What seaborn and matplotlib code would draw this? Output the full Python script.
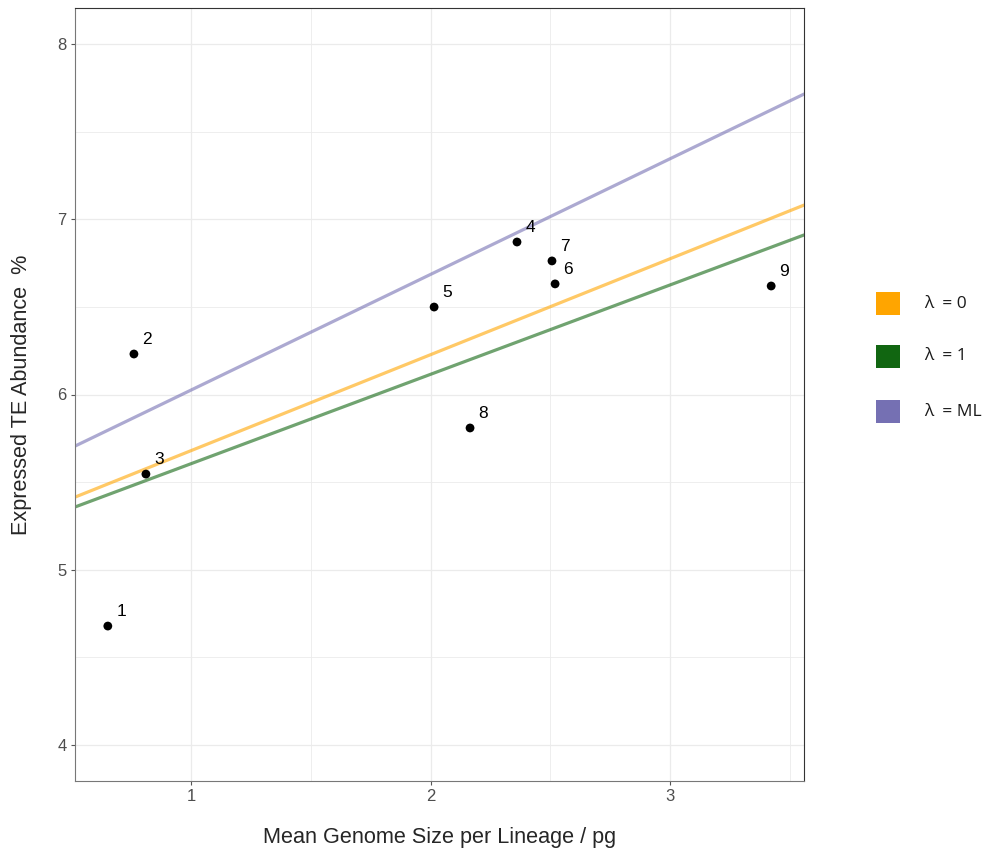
import matplotlib
matplotlib.use("Agg")
import matplotlib.pyplot as plt
from matplotlib.patches import Rectangle
import seaborn as sns
import pandas as pd

# Lineage means
lineage = ["1", "2", "3", "4", "5", "6", "7", "8", "9"]
genome_size = [0.653, 0.762, 0.812, 2.361, 2.015, 2.520, 2.507, 2.165, 3.422]
te_abundance = [4.679, 6.231, 5.546, 6.870, 6.499, 6.631, 6.762, 5.809, 6.619]

# PGLS fits under different lambda
fit_labels = ["λ  = 0", "λ  = 1", "λ  = ML"]
fit_intercepts = [5.132, 5.095, 5.365]
fit_slopes = [0.5475, 0.510, 0.660]
fit_colors = ["#FFA500", "#116611", "#7570B3"]

df = pd.DataFrame({"lineage": lineage, "gs": genome_size, "te": te_abundance})

sns.set_style("white")
plt.rcParams["font.family"] = ["Liberation Sans", "DejaVu Sans"]

W, H = 984, 851
fig = plt.figure(figsize=(W / 100, H / 100), dpi=100)
ax = fig.add_axes([75 / W, 1 - 781 / H, (804 - 75) / W, (781 - 8) / H])

ax.set_xlim(0.516, 3.559)
ax.set_ylim(3.795, 8.205)

# grid: major and minor
for v in [1, 1.5, 2, 2.5, 3, 3.5]:
    ax.axvline(v, color="#EBEBEB", lw=0.9 if v % 1 == 0 else 0.6, zorder=0)
for v in [4, 4.5, 5, 5.5, 6, 6.5, 7, 7.5, 8]:
    ax.axhline(v, color="#EBEBEB", lw=0.9 if v % 1 == 0 else 0.6, zorder=0)

for b, a, c in zip(fit_intercepts, fit_slopes, fit_colors):
    ax.axline((0, b), slope=a, color=c, alpha=0.6, lw=2.3, zorder=2)

sns.scatterplot(data=df, x="gs", y="te", color="black", s=40, edgecolor="none",
                ax=ax, zorder=3, legend=False)
for _, r in df.iterrows():
    ax.annotate(r["lineage"], (r["gs"], r["te"]), xytext=(6, 7),
                textcoords="offset points", fontsize=12.5, color="black", zorder=4)

ax.set_xticks([1, 2, 3])
ax.set_yticks([4, 5, 6, 7, 8])
ax.tick_params(axis="both", which="major", length=3, width=0.8, color="#555555",
               labelsize=12, labelcolor="#4D4D4D", pad=3, direction="out",
               bottom=True, left=True)
for s in ax.spines.values():
    s.set_color("#333333")
    s.set_linewidth(0.8)
ax.spines["left"].set_color("#777777")
ax.spines["bottom"].set_color("#777777")

ax.set_xlabel("Mean Genome Size per Lineage / pg", fontsize=15.6, labelpad=16)
ax.set_ylabel("Expressed TE Abundance  %", fontsize=15.6, labelpad=18)

# legend keys drawn in figure pixels
key_tops = [292, 345, 400]
for top, c, l in zip(key_tops, fit_colors, fit_labels):
    fig.patches.append(Rectangle((876 / W, 1 - (top + 23) / H), 24 / W, 23 / H,
                                 transform=fig.transFigure, facecolor=c,
                                 edgecolor="none"))
    fig.text(924 / W, 1 - (top + 11.5) / H, l, ha="left", va="center",
             fontsize=12.5, family=["Open Sans", "DejaVu Sans"], color="#1a1a1a")

fig.savefig("out.png", dpi=100)
